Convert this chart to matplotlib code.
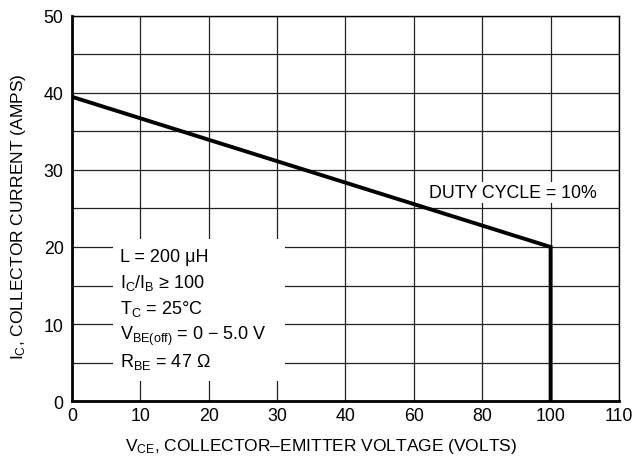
import numpy as np
import matplotlib
matplotlib.use("Agg")
import matplotlib.pyplot as plt
from matplotlib.patches import Rectangle

# chart data
vce_ticks = [0, 10, 20, 30, 40, 60, 80, 100, 110]   # uneven axis, evenly spaced
ic_ticks = [0, 10, 20, 30, 40, 50]
vce = [0, 100, 100]
ic = [39.5, 20, 0]

notes = ["L = 200 μH",
         "I$_C$/I$_B$ ≥ 100",
         "T$_C$ = 25°C",
         "V$_{BE(off)}$ = 0 − 5.0 V",
         "R$_{BE}$ = 47 Ω"]
note_y = [18.2, 14.8, 11.4, 8.0, 4.6]

plt.rcParams['font.family'] = ['Liberation Sans', 'DejaVu Sans']
plt.rcParams['mathtext.fontset'] = 'custom'
plt.rcParams['mathtext.rm'] = 'Liberation Sans'
plt.rcParams['mathtext.default'] = 'regular'

pos = np.arange(len(vce_ticks))

def fwd(v):
    return np.interp(v, vce_ticks, pos)

def inv(p):
    return np.interp(p, pos, vce_ticks)


fig = plt.figure(figsize=(6.32, 4.64), dpi=100)
ax = fig.add_axes([0.1139, 0.1336, 0.8655, 0.8298])
ax.set_xscale('function', functions=(fwd, inv))
ax.set_xlim(0, 110)
ax.set_ylim(0, 50)

ax.set_xticks(vce_ticks)
ax.set_xticklabels([str(v) for v in vce_ticks])
ax.set_xticks([], minor=True)
ax.set_yticks(ic_ticks)
ax.set_yticks(range(0, 51, 5), minor=True)
ax.tick_params(which='both', length=0, labelsize=12.8)
ax.tick_params(axis='y', pad=6)
ax.tick_params(axis='x', pad=4)

ax.set_axisbelow(True)
ax.grid(True, which='major', axis='x', color='#222222', lw=0.9)
ax.grid(True, which='both', axis='y', color='#222222', lw=0.9)

for s in ['left', 'bottom']:
    ax.spines[s].set_linewidth(2.0)
for s in ['top', 'right']:
    ax.spines[s].set_linewidth(1.0)

ax.plot(vce, ic, color='black', lw=2.8, solid_joinstyle='miter', zorder=3)

# white patch behind the conditions text
ax.add_patch(Rectangle((0.075, 0.052), 0.314, 0.369, transform=ax.transAxes,
                       facecolor='white', edgecolor='none', zorder=1.5))
trans = ax.get_yaxis_transform()
for txt, yy in zip(notes, note_y):
    ax.text(0.088, yy, txt, transform=trans, fontsize=13, va='baseline', ha='left', zorder=4)

ax.text(0.806, 27.1, "DUTY CYCLE = 10%", transform=trans, fontsize=12.8,
        ha='center', va='center', zorder=4,
        bbox=dict(facecolor='white', edgecolor='none', pad=1.5))

ax.set_xlabel("V$_{CE}$, COLLECTOR–EMITTER VOLTAGE (VOLTS)", fontsize=12.5)
ax.set_ylabel("I$_C$, COLLECTOR CURRENT (AMPS)", fontsize=12.5)
ax.xaxis.set_label_coords(0.455, -0.09)
ax.yaxis.set_label_coords(-0.08, 0.48)

fig.savefig("out.png", dpi=100)
